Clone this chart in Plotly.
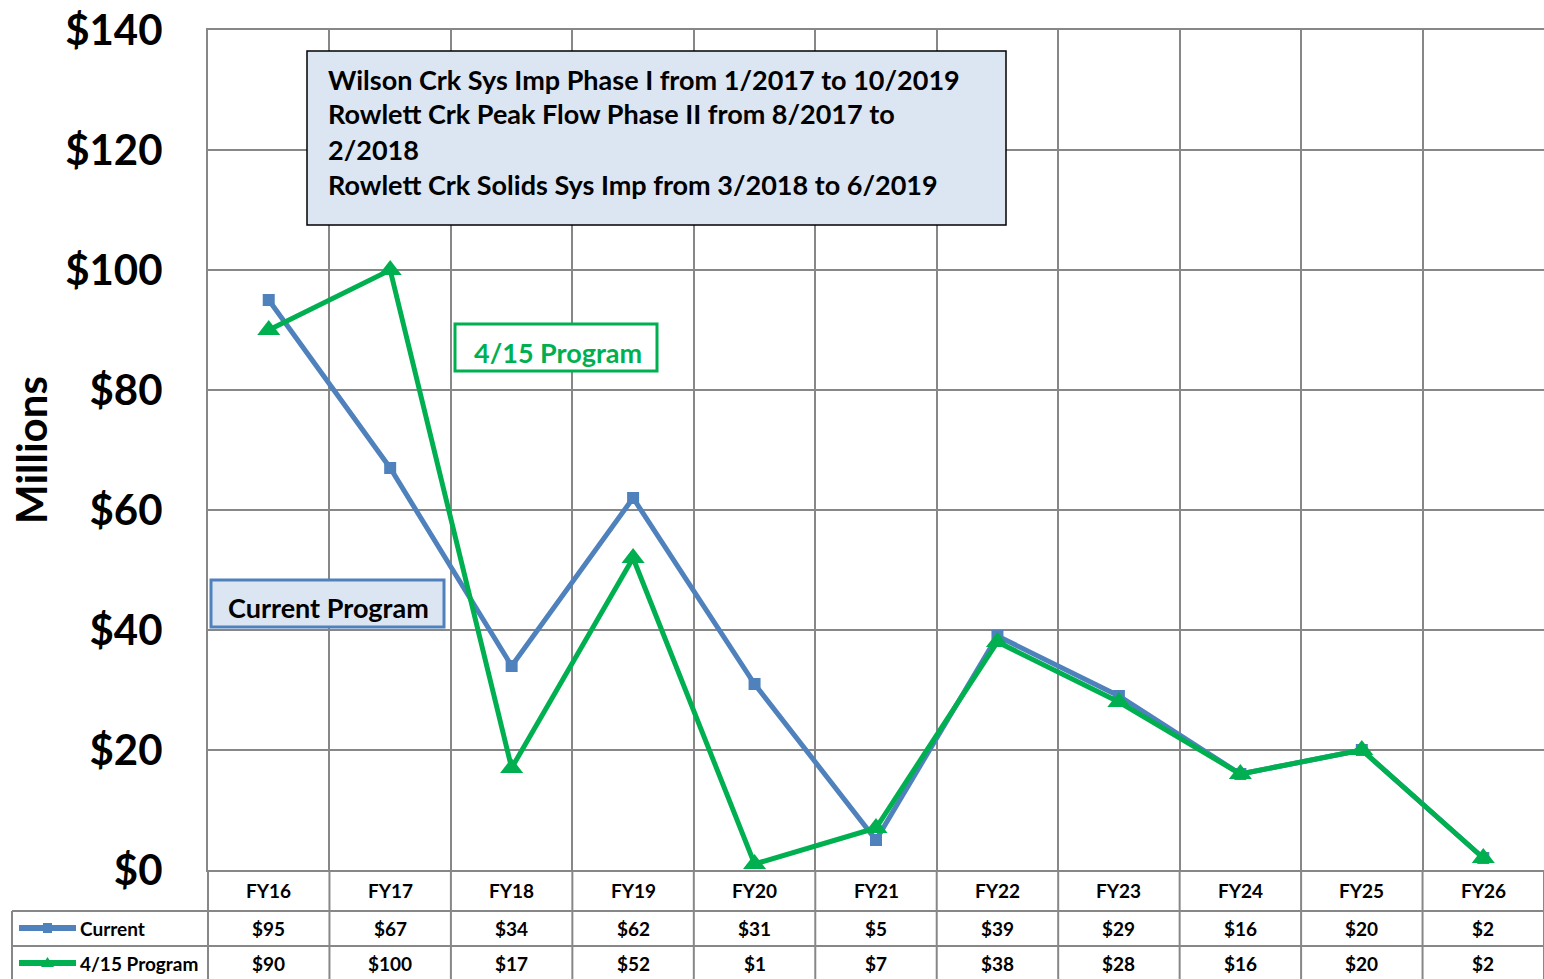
import plotly.graph_objects as go

# chart data
years = ["FY16", "FY17", "FY18", "FY19", "FY20", "FY21", "FY22", "FY23", "FY24", "FY25", "FY26"]
current = [95, 67, 34, 62, 31, 5, 39, 29, 16, 20, 2]
program = [90, 100, 17, 52, 1, 7, 38, 28, 16, 20, 2]
y_ticks = [0, 20, 40, 60, 80, 100, 120, 140]
note_lines = [
    "Wilson Crk Sys Imp Phase I from 1/2017 to 10/2019",
    "Rowlett Crk Peak Flow Phase II from 8/2017 to",
    "2/2018",
    "Rowlett Crk Solids Sys Imp from 3/2018 to 6/2019",
]

BLUE = "#4F81BD"
GREEN = "#00B050"
GRID = "#878787"
BOXFILL = "#DCE6F2"
FONT = "Lato"

W, H = 1544, 979
L, R, T, B = 208, 0, 30, 979 - 870
PW, PH = W - L - R, H - T - B


def px(x):
    # pixel x -> paper
    return (x - L) / PW


def py(y):
    # pixel y -> paper
    return (H - B - y) / PH


def label(x, y, text, size=19, color="black", xanchor="center", **kw):
    return dict(x=x, y=y, text=text, showarrow=False, xanchor=xanchor, yanchor="middle",
                font=dict(family=FONT, size=size, color=color, weight="bold"), **kw)


fig = go.Figure()
fig.add_trace(go.Scatter(x=years, y=current, name="Current", mode="lines+markers",
                         line=dict(color=BLUE, width=5),
                         marker=dict(symbol="square", size=12, color=BLUE)))
fig.add_trace(go.Scatter(x=years, y=program, name="4/15 Program", mode="lines+markers",
                         line=dict(color=GREEN, width=5),
                         marker=dict(symbol="triangle-up", size=20, color=GREEN)))

shapes = []
ann = []

# data table grid below the plot
n = len(years)
for i in range(n + 1):
    shapes.append(dict(type="line", xref="paper", yref="paper", x0=i / n, x1=i / n,
                       y0=0, y1=py(980), line=dict(color=GRID, width=2)))
for yy in [911, 946]:
    shapes.append(dict(type="line", xref="paper", yref="paper", x0=px(12), x1=1,
                       y0=py(yy), y1=py(yy), line=dict(color=GRID, width=2)))
shapes.append(dict(type="line", xref="paper", yref="paper", x0=px(12), x1=px(12),
                   y0=py(911), y1=py(980), line=dict(color=GRID, width=2)))

# header row
for yr in years:
    ann.append(label(yr, py(891), yr, xref="x", yref="paper"))

rows = [("Current", current, BLUE, 928, "square"), ("4/15 Program", program, GREEN, 963, "tri")]
for name, vals, col, yc, mk in rows:
    for yr, v in zip(years, vals):
        ann.append(label(yr, py(yc), f"${v}", xref="x", yref="paper"))
    ann.append(label(px(78), py(yc), name, xanchor="left", xref="paper", yref="paper"))
    # legend key
    shapes.append(dict(type="line", xref="paper", yref="paper", x0=px(19), x1=px(76),
                       y0=py(yc), y1=py(yc), line=dict(color=col, width=6)))
    if mk == "square":
        shapes.append(dict(type="rect", xref="paper", yref="paper", x0=px(43), x1=px(52),
                           y0=py(yc - 5), y1=py(yc + 5), fillcolor=col, line=dict(width=0)))
    else:
        shapes.append(dict(type="path", xref="paper", yref="paper",
                           path=f"M {px(41)},{py(yc + 4)} L {px(54)},{py(yc + 4)} L {px(47.5)},{py(yc - 6)} Z",
                           fillcolor=col, line=dict(width=0)))

# note box
shapes.append(dict(type="rect", xref="paper", yref="paper", x0=px(307), x1=px(1006),
                   y0=py(225), y1=py(51), fillcolor=BOXFILL, line=dict(color="black", width=1.5),
                   layer="above"))
for k, line in enumerate(note_lines):
    ann.append(label(px(326), py(79 + 35 * k), line, size=27, xanchor="left",
                     xref="paper", yref="paper"))

# series labels
shapes.append(dict(type="rect", xref="paper", yref="paper", x0=px(455), x1=px(657),
                   y0=py(371), y1=py(324), fillcolor="white", line=dict(color=GREEN, width=3),
                   layer="above"))
ann.append(label(px(558), py(352), "4/15 Program", size=27, color=GREEN,
                 xref="paper", yref="paper"))
shapes.append(dict(type="rect", xref="paper", yref="paper", x0=px(211), x1=px(444),
                   y0=py(627), y1=py(580), fillcolor=BOXFILL, line=dict(color=BLUE, width=3),
                   layer="above"))
ann.append(label(px(328), py(607), "Current Program", size=27, xref="paper", yref="paper"))

# y title
ann.append(label(px(31), 0.5, "Millions", size=42, textangle=-90, xref="paper", yref="paper"))

fig.update_layout(
    width=W, height=H,
    margin=dict(l=L, r=R, t=T, b=B, autoexpand=False),
    paper_bgcolor="white", plot_bgcolor="white",
    showlegend=False,
    shapes=shapes, annotations=ann,
    font=dict(family=FONT),
)
fig.update_xaxes(type="category", tickson="boundaries", range=[-0.5, n - 0.5],
                 showgrid=True, gridcolor=GRID, gridwidth=2, ticks="",
                 showline=True, linecolor=GRID, linewidth=2, mirror=True,
                 showticklabels=False)
fig.update_yaxes(range=[0, 140], tickvals=y_ticks, ticktext=[f"${v}" for v in y_ticks],
                 showgrid=True, gridcolor=GRID, gridwidth=2, zeroline=False, ticks="",
                 showline=True, linecolor=GRID, linewidth=2, mirror=True,
                 ticklabelstandoff=35, ticklabeloverflow="allow",
                 tickfont=dict(family=FONT, size=42, color="black", weight="bold"))

# drop the default page margin so the figure fills the window
fig.write_html("out.html", config={"displayModeBar": False},
               post_script="document.body.style.margin='0';")
